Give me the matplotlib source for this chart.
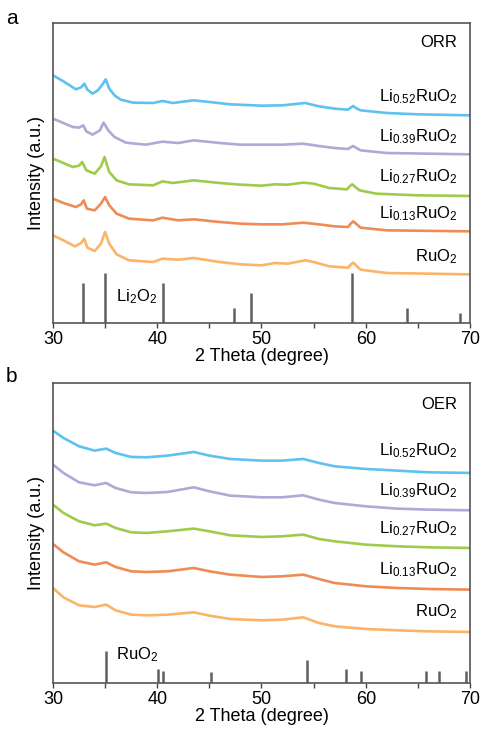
import matplotlib
matplotlib.use('Agg')
import matplotlib.pyplot as plt
import numpy as np

plt.rcParams['font.family'] = ['Liberation Sans', 'DejaVu Sans']
plt.rcParams['mathtext.fontset'] = 'custom'
plt.rcParams['mathtext.rm'] = 'Liberation Sans'
plt.rcParams['mathtext.it'] = 'Liberation Sans'

names = ['RuO$_2$', 'Li$_{0.13}$RuO$_2$', 'Li$_{0.27}$RuO$_2$', 'Li$_{0.39}$RuO$_2$', 'Li$_{0.52}$RuO$_2$']
colors = ['#fbb468', '#ef8c55', '#9dcc4c', '#b2a7d6', '#5ec2ef']

# ORR panel (a): 2theta / intensity pairs
orr_x = {
    'Li0.52': [30, 31, 32.2, 32.7, 33.0, 33.3, 33.8, 34.3, 34.8, 35.05, 35.4, 35.9, 36.5, 37.7, 39.6, 40.5, 41.5, 43.5, 45, 47, 50, 52, 54.2, 55.5, 57, 58.3, 58.55, 58.8, 59.1, 59.5, 62, 65, 70],
    'Li0.39': [30, 31, 31.9, 32.5, 32.9, 33.2, 33.8, 34.5, 34.85, 35.3, 35.9, 37, 38.9, 40.5, 42, 43.5, 46, 48, 52, 54, 55.5, 57, 58.3, 58.55, 58.8, 59.1, 59.5, 62, 70],
    'Li0.27': [30, 31, 31.9, 32.5, 32.8, 33.2, 34.0, 34.6, 34.95, 35.4, 36.1, 37.3, 39.6, 40.5, 41.5, 43.5, 46, 48, 50, 51.3, 52.5, 54, 55, 56.5, 58.2, 58.45, 58.7, 59.0, 59.4, 61, 65, 70],
    'Li0.13': [30, 31, 32.2, 32.7, 32.95, 33.25, 34.0, 34.6, 35.0, 35.4, 36.1, 37.3, 39.6, 40.5, 42, 43.5, 46, 48, 50, 52, 54, 55.5, 57, 58.3, 58.55, 58.8, 59.1, 59.5, 62, 70],
    'RuO2': [30, 31, 32.1, 32.7, 33.0, 33.3, 34.0, 34.6, 35.0, 35.4, 36.1, 37.3, 39.6, 40.5, 42, 43.5, 46, 48, 50, 51.3, 52.5, 54.2, 55, 56.5, 58.3, 58.55, 58.8, 59.1, 59.5, 62, 70],
}
orr_y = {
    'Li0.52': [743, 725, 701, 707, 718, 700, 688, 698, 718, 731, 703, 683, 670, 661, 660, 666, 660, 668, 663, 656, 652, 653, 660, 650, 643, 640, 646, 651, 644, 638, 630, 626, 623],
    'Li0.39': [613, 600, 588, 586, 593, 575, 565, 578, 601, 578, 558, 541, 535, 544, 540, 548, 540, 535, 535, 538, 531, 525, 522, 527, 531, 525, 518, 510, 506],
    'Li0.27': [493, 480, 468, 472, 483, 458, 448, 470, 498, 453, 428, 416, 413, 425, 420, 428, 420, 415, 412, 416, 415, 421, 418, 405, 401, 410, 416, 408, 398, 388, 383, 381],
    'Li0.13': [373, 360, 348, 356, 368, 343, 338, 358, 378, 353, 328, 313, 308, 316, 308, 311, 303, 298, 296, 296, 301, 296, 290, 288, 298, 305, 297, 286, 278, 275],
    'RuO2': [263, 248, 230, 240, 253, 226, 216, 238, 273, 238, 206, 188, 183, 193, 190, 195, 183, 176, 173, 180, 178, 188, 183, 170, 166, 175, 181, 172, 160, 150, 146],
}

# OER panel (b)
oer_x = [30, 31, 32.5, 34, 35.1, 36, 37.5, 39, 41, 43.5, 45, 47, 50, 52, 54, 55.5, 57, 60, 63, 66, 70]
oer_y = {
    'Li0.52': [757, 735, 710, 697, 703, 690, 678, 677, 682, 693, 682, 672, 667, 667, 672, 660, 650, 642, 637, 632, 630],
    'Li0.39': [655, 630, 602, 593, 600, 585, 572, 570, 573, 587, 575, 562, 557, 557, 563, 550, 540, 530, 523, 520, 518],
    'Li0.27': [535, 510, 485, 473, 478, 465, 452, 450, 455, 463, 455, 443, 438, 440, 445, 432, 425, 415, 410, 407, 405],
    'Li0.13': [417, 392, 365, 355, 362, 348, 335, 333, 335, 345, 335, 325, 318, 320, 325, 312, 300, 290, 285, 282, 280],
    'RuO2': [285, 257, 233, 228, 235, 218, 205, 203, 205, 212, 202, 192, 188, 190, 197, 180, 170, 162, 158, 155, 153],
}
keys = ['RuO2', 'Li0.13', 'Li0.27', 'Li0.39', 'Li0.52']

# reference patterns
li2o2_pos = [32.9, 35.0, 40.6, 47.4, 49.0, 58.7, 64.0, 69.0]
li2o2_h = [120, 150, 120, 46, 90, 150, 46, 30]
ruo2_pos = [35.1, 40.1, 40.6, 45.2, 54.4, 58.1, 59.5, 65.8, 67.0, 69.6]
ruo2_h = [95, 43, 37, 32, 70, 43, 37, 37, 37, 37]

orr_label_y = [200, 328, 438, 560, 678]
oer_label_y = [215, 340, 463, 578, 697]

fig = plt.figure(figsize=(4.83, 7.39), dpi=100)
ax1 = fig.add_axes([0.1097, 0.5629, 0.8634, 0.406])
ax2 = fig.add_axes([0.1097, 0.0758, 0.8634, 0.406])

def style(ax):
    ax.set_xlim(30, 70)
    ax.set_ylim(0, 900)
    ax.set_yticks([])
    ax.set_xticks([30, 40, 50, 60, 70])
    ax.set_xticks([35, 45, 55, 65], minor=True)
    ax.tick_params(axis='x', which='both', direction='out', length=3.5, width=1, colors='#444444', labelsize=13, labelcolor='black', pad=2)
    for s in ax.spines.values():
        s.set_color('#555555')
        s.set_linewidth(1.2)
    ax.set_xlabel('2 Theta (degree)', fontsize=13, labelpad=0)
    ax.set_ylabel('Intensity (a.u.)', fontsize=13, labelpad=6)

for i, k in enumerate(keys):
    ax1.plot(orr_x[k], orr_y[k], color=colors[i], lw=1.9)
    ax1.text(68.8, orr_label_y[i], names[i], ha='right', va='center', fontsize=12)
    ax2.plot(oer_x, oer_y[k], color=colors[i], lw=1.9)
    ax2.text(68.8, oer_label_y[i], names[i], ha='right', va='center', fontsize=12)

ax1.vlines(li2o2_pos, 0, li2o2_h, color='#606060', lw=1.8)
ax2.vlines(ruo2_pos, 0, ruo2_h, color='#606060', lw=1.8)
ax1.text(36.0, 78, 'Li$_2$O$_2$', fontsize=12, va='center')
ax2.text(36.0, 85, 'RuO$_2$', fontsize=12, va='center')
ax1.text(68.8, 840, 'ORR', ha='right', va='center', fontsize=12)
ax2.text(68.8, 835, 'OER', ha='right', va='center', fontsize=12)

style(ax1)
style(ax2)
fig.text(0.012, 0.975, 'a', fontsize=15, va='center')
fig.text(0.012, 0.49, 'b', fontsize=15, va='center')

fig.savefig('out.png', dpi=100)
